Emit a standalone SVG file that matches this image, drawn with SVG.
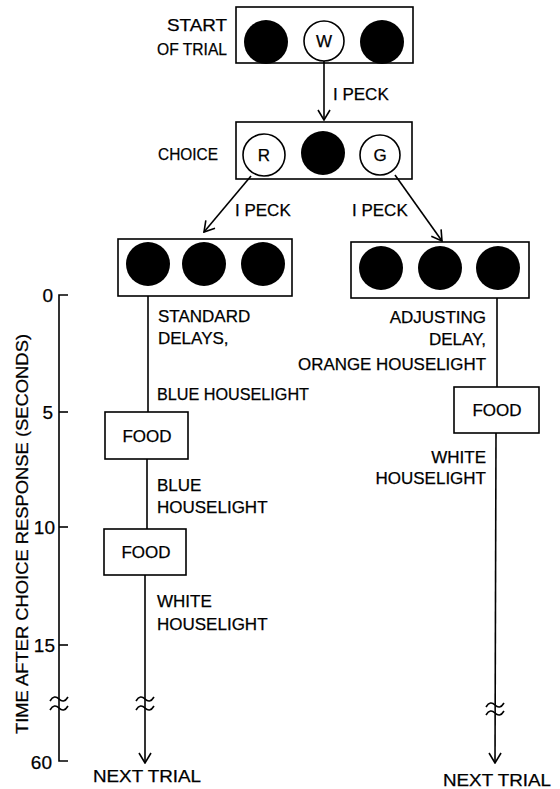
<svg xmlns="http://www.w3.org/2000/svg" width="560" height="789" viewBox="0 0 560 789">
<style>
text{font-family:"Liberation Sans",Arial,sans-serif;font-size:17px;fill:#000;stroke:#000;stroke-width:0.25;}
.box{fill:#fff;stroke:#000;stroke-width:1.6;}
.blk{fill:#000;}
.wc{fill:#fff;stroke:#000;stroke-width:1.6;}
.ln{fill:none;stroke:#000;stroke-width:1.6;}
.c{text-anchor:middle;}
.r{text-anchor:end;}
.num{font-size:19px;}
</style>
<defs>
<marker id="ah" viewBox="0 0 12 14" refX="11" refY="7" markerWidth="12" markerHeight="14" markerUnits="userSpaceOnUse" orient="auto">
<path d="M1,1 L11,7 L1,13" fill="none" stroke="#000" stroke-width="1.6"/>
</marker>
<path id="sq" d="M-9,2 C-6,-3 -3,-3 0,0 S6,3 9,-2" fill="none" stroke="#000" stroke-width="1.6"/>
</defs>

<g id="start">
<text x="227" y="31" class="r" textLength="60" lengthAdjust="spacingAndGlyphs">START</text>
<text x="227" y="55" class="r" textLength="70" lengthAdjust="spacingAndGlyphs">OF TRIAL</text>
<rect class="box" x="236" y="7" width="177" height="56"/>
<circle class="blk" cx="266" cy="42" r="22"/>
<circle class="wc" cx="324" cy="41" r="20"/>
<text x="324" y="47" class="c">W</text>
<circle class="blk" cx="382" cy="42" r="22"/>
</g>

<g id="choice">
<text x="218" y="160" class="r" textLength="60" lengthAdjust="spacingAndGlyphs">CHOICE</text>
<rect class="box" x="236" y="122" width="176" height="57"/>
<circle class="wc" cx="264" cy="155" r="21"/>
<text x="264" y="161" class="c">R</text>
<circle class="blk" cx="323" cy="153" r="22"/>
<circle class="wc" cx="380" cy="155" r="20"/>
<text x="380" y="161" class="c">G</text>
</g>

<g id="left-panel">
<rect class="box" x="118" y="239" width="174" height="57"/>
<circle class="blk" cx="148" cy="264" r="22"/>
<circle class="blk" cx="204" cy="264" r="22"/>
<circle class="blk" cx="263" cy="264" r="22"/>
</g>

<g id="right-panel">
<rect class="box" x="351" y="242" width="178" height="56"/>
<circle class="blk" cx="381" cy="268" r="22"/>
<circle class="blk" cx="440" cy="268" r="22"/>
<circle class="blk" cx="498" cy="268" r="22"/>
</g>

<g id="food-left-1">
<rect class="box" x="105" y="412" width="83" height="47"/>
<text x="147" y="442" class="c">FOOD</text>
</g>
<g id="food-left-2">
<rect class="box" x="104" y="529" width="82" height="46"/>
<text x="146" y="558" class="c">FOOD</text>
</g>
<g id="food-right">
<rect class="box" x="454" y="387" width="85" height="46"/>
<text x="497" y="416" class="c">FOOD</text>
</g>

<g id="connectors">
<line class="ln" x1="324" y1="61" x2="324" y2="120" marker-end="url(#ah)"/>
<line class="ln" x1="251" y1="176" x2="204" y2="232" marker-end="url(#ah)"/>
<line class="ln" x1="395" y1="175" x2="442" y2="241" marker-end="url(#ah)"/>
<line class="ln" x1="148" y1="296" x2="148" y2="412"/>
<line class="ln" x1="147" y1="459" x2="147" y2="529"/>
<line class="ln" x1="145" y1="575" x2="145" y2="763" marker-end="url(#ah)"/>
<use href="#sq" x="145" y="699"/>
<use href="#sq" x="145" y="708"/>
<line class="ln" x1="497" y1="298" x2="497" y2="387"/>
<line class="ln" x1="496" y1="433" x2="495" y2="763" marker-end="url(#ah)"/>
<use href="#sq" x="495" y="705"/>
<use href="#sq" x="495" y="713"/>
</g>

<g id="labels">
<text x="333" y="100">I PECK</text>
<text x="235" y="216">I PECK</text>
<text x="352" y="216">I PECK</text>
<text x="158" y="322">STANDARD</text>
<text x="158" y="344">DELAYS,</text>
<text x="157" y="400" textLength="152" lengthAdjust="spacingAndGlyphs">BLUE HOUSELIGHT</text>
<text x="157" y="491">BLUE</text>
<text x="157" y="513">HOUSELIGHT</text>
<text x="157" y="607">WHITE</text>
<text x="157" y="630">HOUSELIGHT</text>
<text x="486" y="323" class="r">ADJUSTING</text>
<text x="486" y="345" class="r">DELAY,</text>
<text x="486" y="370" class="r" textLength="188" lengthAdjust="spacingAndGlyphs">ORANGE HOUSELIGHT</text>
<text x="486" y="463" class="r">WHITE</text>
<text x="486" y="484" class="r">HOUSELIGHT</text>
<text x="93" y="782" textLength="108" lengthAdjust="spacingAndGlyphs">NEXT TRIAL</text>
<text x="443" y="786" textLength="108" lengthAdjust="spacingAndGlyphs">NEXT TRIAL</text>
</g>

<g id="axis">
<polyline class="ln" points="68,295 59,295 59,761 68,761"/>
<line class="ln" x1="59" y1="412" x2="68" y2="412"/>
<line class="ln" x1="59" y1="527" x2="68" y2="527"/>
<line class="ln" x1="59" y1="645" x2="68" y2="645"/>
<use href="#sq" x="59" y="699"/>
<use href="#sq" x="59" y="708"/>
<text x="53" y="302" class="r num">0</text>
<text x="53" y="419" class="r num">5</text>
<text x="55" y="534" class="r num">10</text>
<text x="55" y="652" class="r num">15</text>
<text x="52" y="769" class="r num">60</text>
<text transform="translate(28,534) rotate(-90)" class="c" textLength="400" lengthAdjust="spacingAndGlyphs">TIME AFTER CHOICE RESPONSE (SECONDS)</text>
</g>
</svg>
